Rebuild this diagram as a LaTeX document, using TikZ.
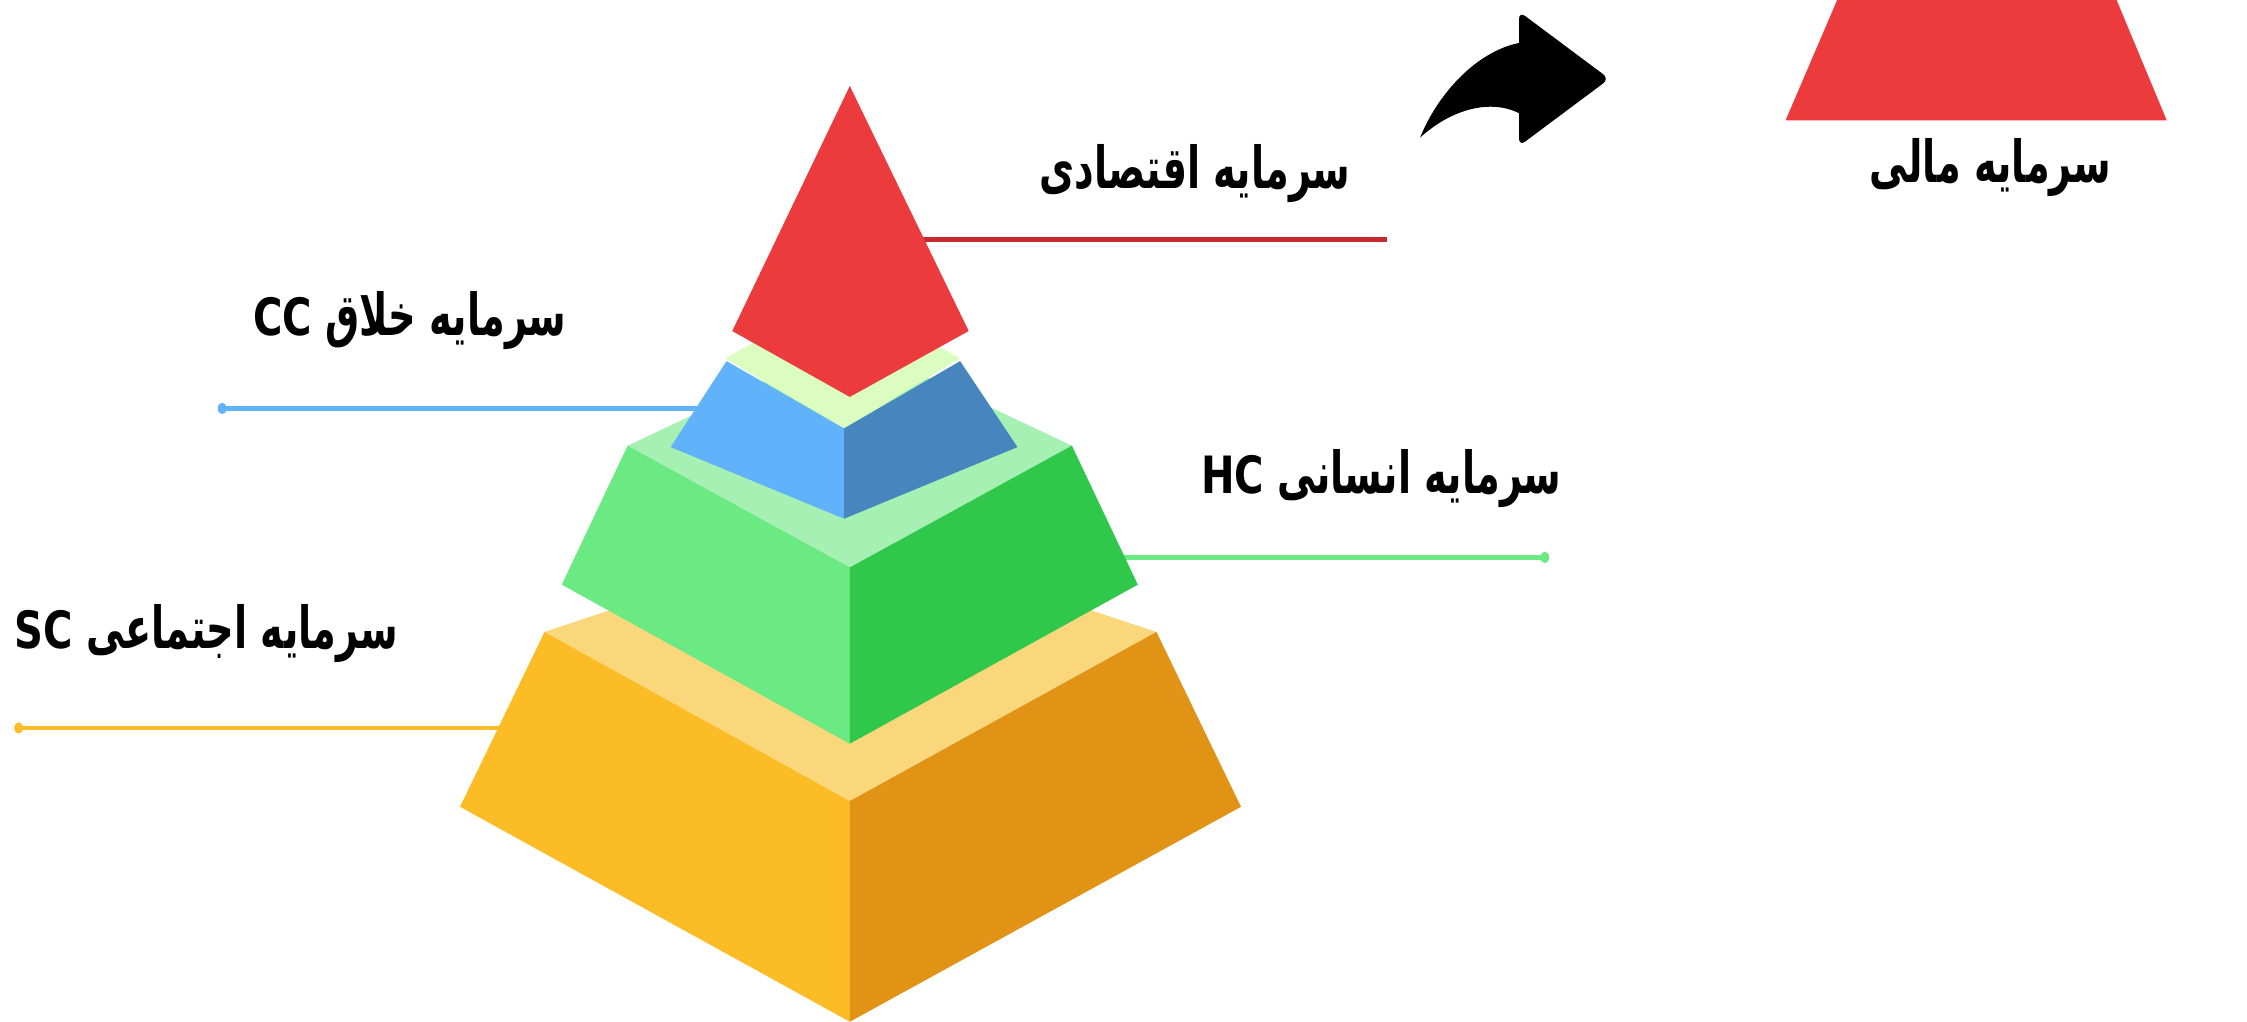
\documentclass[tikz,border=0pt]{standalone}
\usepackage{fontspec}
\TeXXeTstate=1
\newfontfamily\farsifont[Script=Arabic,FakeStretch=0.66]{DejaVu Sans}
\newfontfamily\latinfont[FakeStretch=0.78]{DejaVu Sans}
\definecolor{capred}{HTML}{EC3B3D}
\definecolor{redline}{HTML}{C62A30}
\definecolor{blueface}{HTML}{60B2FA}
\definecolor{bluedark}{HTML}{4785BE}
\definecolor{bluetop}{HTML}{DCFDC0}
\definecolor{greentop}{HTML}{A6F0B4}
\definecolor{greenface}{HTML}{6BE982}
\definecolor{greendark}{HTML}{30C84A}
\definecolor{yellowtop}{HTML}{FBD77C}
\definecolor{yellowface}{HTML}{FBBC26}
\definecolor{yellowdark}{HTML}{E09314}
\newcommand{\capcode}[1]{\beginL{\latinfont\bfseries\fontsize{10.2}{12}\selectfont #1}\endL}

\begin{document}
\begin{tikzpicture}[x=0.01cm,y=-0.01cm,
    cap label/.style={font=\farsifont\bfseries\fontsize{11.5}{13}\selectfont,inner sep=0pt},
    lead line/.style={line width=0.9pt},
    end dot/.style={x radius=3,y radius=4}]

  \useasboundingbox (0,0) rectangle (1568,713);

  % lead lines (behind the pyramid)
  \coordinate (econA) at (600,167);
  \coordinate (econB) at (968,167);
  \coordinate (creaA) at (155,285);
  \coordinate (creaB) at (500,285);
  \coordinate (humA) at (760,389);
  \coordinate (humB) at (1078,389);
  \coordinate (socA) at (13,508);
  \coordinate (socB) at (360,508);
  \draw[lead line,redline] (econA) -- (econB);
  \draw[lead line,blueface] (creaA) -- (creaB);
  \fill[blueface] (creaA) ellipse [end dot];
  \draw[lead line,greenface] (humA) -- (humB);
  \fill[greenface] (humB) ellipse [end dot];
  \draw[lead line,yellowface] (socA) -- (socB);
  \fill[yellowface] (socA) ellipse [end dot];

  % social layer
  \fill[yellowtop] (380,441) -- (593,370) -- (807,441) -- (593,559) -- cycle;
  \fill[yellowface] (380,441) -- (593,559) -- (593,713) -- (321,563) -- cycle;
  \fill[yellowdark] (593,559) -- (807,441) -- (866,563) -- (593,713) -- cycle;

  % human layer
  \fill[greentop] (438,311) -- (593,238) -- (748,311) -- (593,396) -- cycle;
  \fill[greenface] (438,311) -- (593,396) -- (593,519) -- (392,408) -- cycle;
  \fill[greendark] (593,396) -- (748,311) -- (794,408) -- (593,519) -- cycle;

  % creative layer
  \fill[bluetop] (506,250) -- (589,205) -- (670,250) -- (589,299) -- cycle;
  \fill[blueface] (507,252) -- (589,299) -- (589,362) -- (468,312) -- cycle;
  \fill[bluedark] (589,299) -- (670,252) -- (710,312) -- (589,362) -- cycle;

  % economic top
  \fill[capred] (593,60) -- (676,231) -- (593,277) -- (511,231) -- cycle;

  % financial capital
  \fill[capred] (1282,0) -- (1477,0) -- (1512,84) -- (1246,84) -- cycle;

  % arrow
  \fill[black] (991,96)
    .. controls (1003,66) and (1030,36) .. (1060,30)
    {[rounded corners=1.5] -- (1060,8) -- (1123,55) -- (1060,102)}
    -- (1060,79)
    .. controls (1040,69) and (1013,76) .. (991,96) -- cycle;

  % labels
  \node[cap label] (econ) at (834,121) {\beginR سرمایه اقتصادی\endR};
  \node[cap label] (fin) at (1389,117) {\beginR سرمایه مالی\endR};
  \node[cap label] (crea) at (286,224) {\beginR سرمایه خلاق \capcode{CC}\endR};
  \node[cap label] (hum) at (964,334) {\beginR سرمایه انسانی \capcode{HC}\endR};
  \node[cap label] (soc) at (144,442) {\beginR سرمایه اجتماعی \capcode{SC}\endR};

\end{tikzpicture}
\end{document}
